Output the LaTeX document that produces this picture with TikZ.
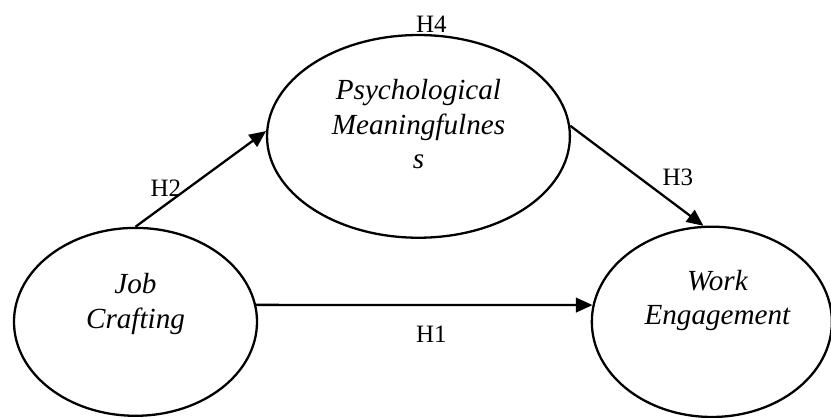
\documentclass[tikz,border=0pt]{standalone}
\usepackage{fontspec}
\setmainfont{Liberation Serif}
\usetikzlibrary{positioning,arrows.meta,shapes.geometric}

\begin{document}
\begin{tikzpicture}[
    >=Latex,
    every node/.style = {font=\fontsize{12}{14}\selectfont},
    construct/.style  = {ellipse, draw=black, line width=1.1pt, inner sep=0pt},
    ctext/.style      = {align=center, inner sep=0pt,
                          font=\fontsize{14}{16.5}\selectfont\itshape},
    hyp/.style        = {anchor=base, inner sep=0pt},
    arr/.style        = {-{Triangle[length=8pt,width=7pt]}, line width=1.1pt, draw=black},
]

\useasboundingbox (0,0) rectangle (140.2mm,70.5mm);

% The three constructs (ellipses), text set a bit above their centres
\node[construct, minimum width=41mm, minimum height=31.7mm] (JC) at (22.86mm,16.2mm) {};
\node[construct, minimum width=51.1mm, minimum height=34.2mm] (PM) at (70.6mm,47.49mm) {};
\node[construct, minimum width=40.5mm, minimum height=32.1mm] (WE) at (120.1mm,16.2mm) {};

\node[ctext] (JCtext) at (22.86mm,19.23mm) {Job\\Crafting};
\node[ctext] (PMtext) at (70.6mm,49.53mm) {Psychological\\Meaningfulnes\\s};
\node[ctext] (WEtext) at (121.04mm,19.79mm) {Work\\Engagement};

% Hypothesised paths
\draw[arr] (JC.8) -- (WE.172);
\draw[arr] (JC.north) -- (PM.178);
\draw[arr] (PM.4) -- (WE.95);

% Hypothesis labels
\node[hyp] (H1) at (72.79mm,12.65mm) {H1};
\node[hyp] (H2) at (28.0mm,37.28mm) {H2};
\node[hyp] (H3) at (114.38mm,39.14mm) {H3};
\node[hyp] (H4) at (72.79mm,64.95mm) {H4};

\end{tikzpicture}
\end{document}
